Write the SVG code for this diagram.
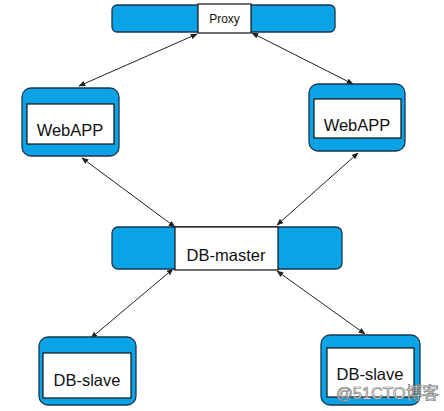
<svg xmlns="http://www.w3.org/2000/svg" width="444" height="411" viewBox="0 0 444 411">
<style>
.blue{fill:#0aa3e6;stroke:#1b3550;stroke-width:1.3}
.white{fill:#ffffff;stroke:#111;stroke-width:1.2}
.lbl{font-family:"Liberation Sans",Arial,sans-serif;fill:#111;text-anchor:middle}
.conn{stroke:#222;stroke-width:1;fill:none;marker-start:url(#ah);marker-end:url(#ah)}
</style>
<defs>
<marker id="ah" viewBox="0 0 10 10" refX="9" refY="5" markerWidth="7" markerHeight="7" orient="auto-start-reverse" markerUnits="userSpaceOnUse">
<path d="M0,1 L10,5 L0,9 z" fill="#222"/>
</marker>
</defs>
<rect width="444" height="411" fill="#fff"/>
<g id="connectors">
<line class="conn" x1="197" y1="34" x2="79" y2="86"/>
<line class="conn" x1="252" y1="33" x2="353" y2="84"/>
<line class="conn" x1="82" y1="158" x2="175" y2="227"/>
<line class="conn" x1="358" y1="153" x2="277" y2="225"/>
<line class="conn" x1="173" y1="269" x2="91" y2="338"/>
<line class="conn" x1="277" y1="271" x2="365" y2="334"/>
</g>
<g id="proxy">
<rect class="blue" x="112" y="5" width="223" height="27" rx="5"/>
<rect class="white" x="198" y="4" width="53" height="29"/>
<text class="lbl" x="224.5" y="23" font-size="12">Proxy</text>
</g>
<g id="webapp-left">
<rect class="blue" x="22" y="88" width="97" height="68" rx="9"/>
<rect class="white" x="27" y="104" width="87" height="40"/>
<text class="lbl" x="70" y="136" font-size="16.5">WebAPP</text>
</g>
<g id="webapp-right">
<rect class="blue" x="309" y="84" width="96" height="67" rx="9"/>
<rect class="white" x="314" y="99" width="87" height="39"/>
<text class="lbl" x="357" y="131" font-size="16.5">WebAPP</text>
</g>
<g id="db-master">
<rect class="blue" x="112" y="227" width="230" height="42" rx="6"/>
<rect class="white" x="175" y="227" width="103" height="43"/>
<text class="lbl" x="226" y="261" font-size="16.5">DB-master</text>
</g>
<g id="db-slave-left">
<rect class="blue" x="39" y="337" width="97" height="68" rx="9"/>
<rect class="white" x="43" y="353" width="88" height="45"/>
<text class="lbl" x="87" y="386" font-size="16.5">DB-slave</text>
</g>
<g id="db-slave-right">
<rect class="blue" x="321" y="335" width="99" height="70" rx="9"/>
<rect class="white" x="327" y="348" width="87" height="49"/>
<text class="lbl" x="370" y="380" font-size="16.5">DB-slave</text>
</g>
<text x="336" y="399" font-family="'Liberation Sans','Noto Sans CJK SC',sans-serif" font-size="16.5" fill="#fff" stroke="#777" stroke-width="0.7">@51CTO博客</text>
</svg>
